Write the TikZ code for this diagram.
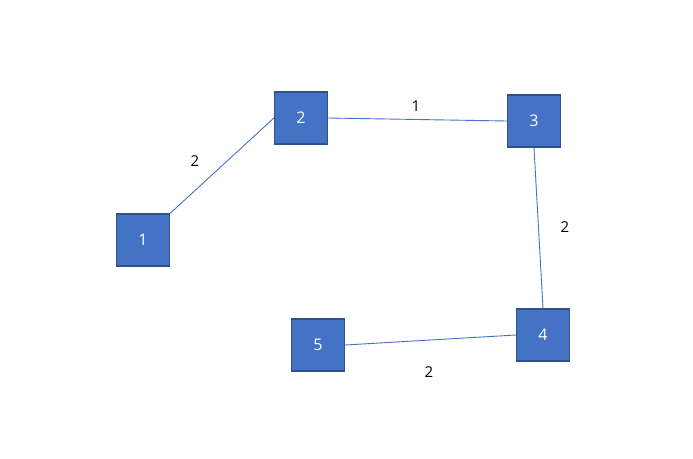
\documentclass[tikz,border=0pt]{standalone}
\usepackage{fontspec}
\setmainfont{Open Sans}
\definecolor{boxfill}{HTML}{4472C4}
\definecolor{boxedge}{HTML}{2F528F}
\begin{document}
\begin{tikzpicture}[x=1pt,y=-1pt,
  nodebox/.style={draw=boxedge,line width=1.2pt,fill=boxfill,minimum width=53pt,minimum height=52pt,inner sep=0pt,text=white,font=\fontsize{16}{19}\selectfont},
  link/.style={draw=boxfill,line width=0.9pt},
  wlabel/.style={font=\fontsize{15}{18}\selectfont,text=black}]
\useasboundingbox (0,0) rectangle (693,458);
\node[nodebox] (n1) at (143,240) {1};
\node[nodebox] (n2) at (301,118) {2};
\node[nodebox] (n3) at (534,121) {3};
\node[nodebox] (n4) at (543,335) {4};
\node[nodebox] (n5) at (318,345) {5};
\draw[link] (n1.north east) -- (n2.west);
\draw[link] (n2.east) -- (n3.west);
\draw[link] (n3.south) -- (n4.north);
\draw[link] (n5.east) -- (n4.west);
\node[wlabel] (l12) at (195,161) {2};
\node[wlabel] (l23) at (416,106) {1};
\node[wlabel] (l34) at (565,227) {2};
\node[wlabel] (l54) at (429,372) {2};
\end{tikzpicture}
\end{document}
